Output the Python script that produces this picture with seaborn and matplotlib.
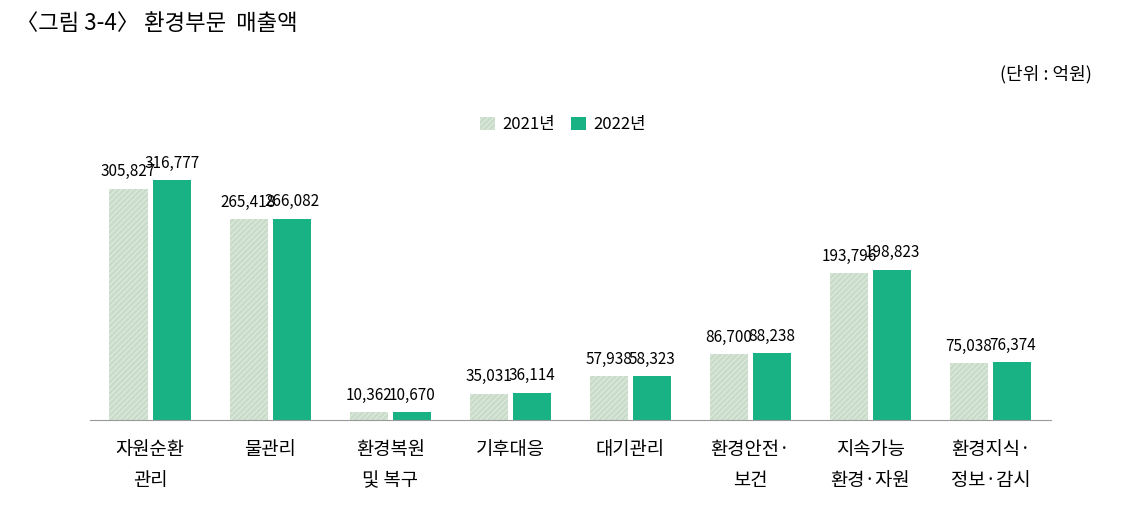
import matplotlib
matplotlib.use("Agg")
import matplotlib.pyplot as plt
import seaborn as sns
import pandas as pd
from matplotlib.patches import Patch
from matplotlib import font_manager as fm

names = {f.name for f in fm.fontManager.ttflist}
fam = [n for n in ["Noto Sans CJK KR", "Noto Sans CJK JP", "Noto Sans CJK SC", "Noto Sans CJK TC"] if n in names]
plt.rcParams["font.family"] = fam + ["DejaVu Sans"]
plt.rcParams["hatch.linewidth"] = 0.6

categories = ["자원순환\n관리", "물관리", "환경복원\n및 복구", "기후대응", "대기관리",
              "환경안전·\n보건", "지속가능\n환경·자원", "환경지식·\n정보·감시"]
v2021 = [305827, 265418, 10362, 35031, 57938, 86700, 193796, 75038]
v2022 = [316777, 266082, 10670, 36114, 58323, 88238, 198823, 76374]
series = ["2021년", "2022년"]

df = pd.DataFrame({
    "cat": categories * 2,
    "val": v2021 + v2022,
    "yr": [series[0]] * 8 + [series[1]] * 8,
})

fig = plt.figure(figsize=(11.26, 5.31), dpi=100)
ax = fig.add_axes([0.08, 0.209, 0.853, 0.527])
c21, c22 = "#c9dcc9", "#18b284"
sns.barplot(data=df, x="cat", y="val", hue="yr", palette=[c21, c22],
            width=0.72, gap=0.12, ax=ax, legend=False, saturation=1)
for c in ax.containers[0]:
    c.set_hatch("//////")
    c.set_edgecolor("#e6efe6")
    c.set_linewidth(0)
for cont, vals in zip(ax.containers, [v2021, v2022]):
    ax.bar_label(cont, labels=[f"{v:,}" for v in vals], padding=6, fontsize=11)
ax.set_ylim(0, 370000)
ax.set_xlim(-0.5, 7.5)
for s in ["top", "right", "left"]:
    ax.spines[s].set_visible(False)
ax.spines["bottom"].set_color("#999999")
ax.set_yticks([])
ax.set_xlabel("")
ax.set_ylabel("")
ax.tick_params(axis="x", length=0, pad=14, labelsize=13.5)
for t in ax.get_xticklabels():
    t.set_linespacing(1.6)
    t.set_verticalalignment("top")

handles = [Patch(facecolor=c21, hatch="//////", edgecolor="#e6efe6", linewidth=0),
           Patch(facecolor=c22)]
fig.legend(handles, series, loc="center", bbox_to_anchor=(0.5, 0.765), ncol=2,
           frameon=False, fontsize=12, handlelength=0.9, handleheight=0.9,
           columnspacing=1.0, handletextpad=0.4)
fig.text(0.014, 0.955, "〈그림 3-4〉 환경부문  매출액", fontsize=16, va="center")
fig.text(0.97, 0.86, "(단위 : 억원)", fontsize=13, ha="right", va="center")
fig.savefig("out.png", dpi=100)
